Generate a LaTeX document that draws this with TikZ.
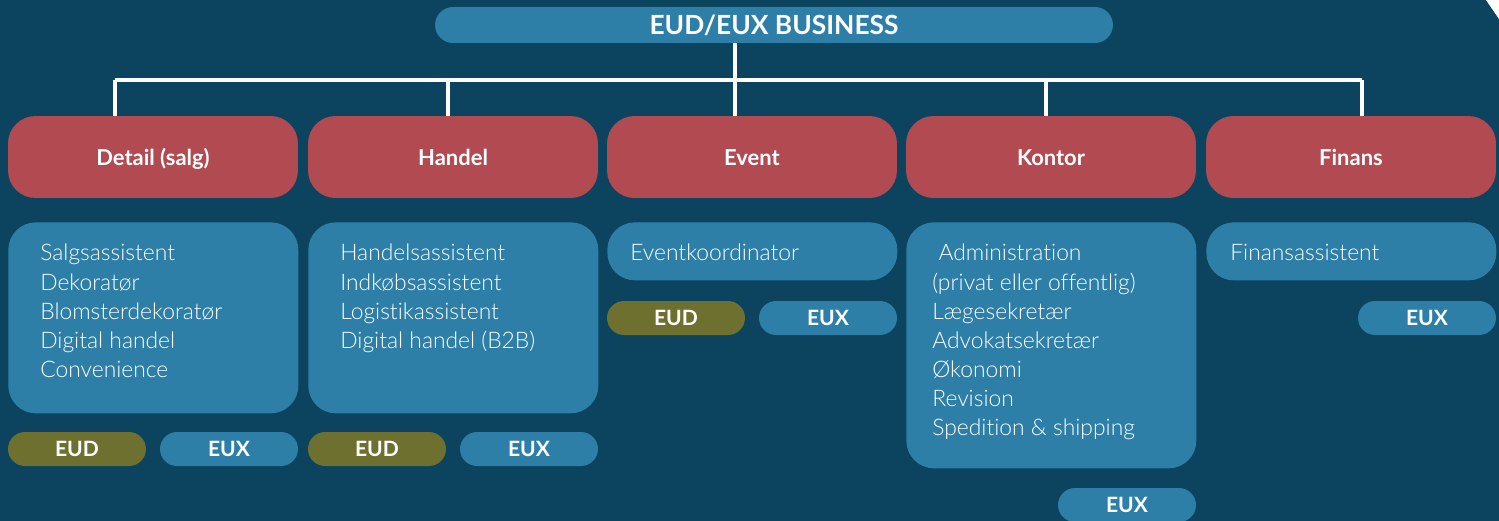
\documentclass[tikz,border=0pt]{standalone}
\usepackage{fontspec}
\setmainfont{Lato}[Ligatures=NoCommon]
\newfontfamily\jobfont{Lato}[UprightFont=* Light, Ligatures=NoCommon]
\definecolor{bgteal}{RGB}{12,68,96}
\definecolor{boxblue}{RGB}{45,127,168}
\definecolor{catred}{RGB}{178,74,82}
\definecolor{olive}{RGB}{110,112,48}

\begin{document}
\begin{tikzpicture}[x=0.02cm, y=-0.02cm,
  link/.style={white, line width=2.3pt},
  header/.style={fill=boxblue, rounded corners=0.36cm, minimum width=13.56cm, minimum height=0.72cm, text=white, font=\bfseries\fontsize{15}{18}\selectfont},
  cat/.style={fill=catred, rounded corners=0.55cm, minimum width=5.8cm, minimum height=1.64cm, text height=2ex, text depth=0.1ex, text=white, font=\bfseries\fontsize{12.5}{15}\selectfont},
  jobbox/.style={fill=boxblue, rounded corners=0.55cm, minimum width=5.8cm, anchor=north west, inner sep=0},
  jobtext/.style={text=white, align=left, inner sep=0, anchor=north west, font=\jobfont\fontsize{13}{16.6}\selectfont},
  pill/.style={rounded corners=0.34cm, minimum width=2.76cm, minimum height=0.68cm, inner sep=0, text=white, font=\bfseries\fontsize{12}{14}\selectfont},
  eud/.style={pill, fill=olive},
  eux/.style={pill, fill=boxblue}]

\useasboundingbox (0,0) rectangle (1499,521);
% background
\fill[bgteal] (0,0) rectangle (1499,521);
% white corner top right
\fill[white] (1486,0) -- (1499,0) -- (1499,19) -- cycle;

% title
\node[header] (business) at (774,25) {EUD/EUX BUSINESS};

% categories
\node[cat] (detail) at (153,157) {Detail (salg)};
\node[cat] (handel) at (453,157) {Handel};
\node[cat] (event)  at (752,157) {Event};
\node[cat] (kontor) at (1051,157) {Kontor};
\node[cat] (finans) at (1351,157) {Finans};

% tree lines
\coordinate (hub) at (735,80);
\coordinate (j1) at (115,80);
\coordinate (j2) at (448,80);
\coordinate (j4) at (1046,80);
\coordinate (j5) at (1362,80);
\draw[link] (hub |- business.south) -- (hub);
\draw[link] (j1) -- (j5);
\draw[link] (j1) -- (j1 |- detail.north);
\draw[link] (j2) -- (j2 |- handel.north);
\draw[link] (hub) -- (hub |- event.north);
\draw[link] (j4) -- (j4 |- kontor.north);
\draw[link] (j5) -- (j5 |- finans.north);

% job boxes
\node[jobbox, minimum height=3.82cm] (detailjobs) at (8,222) {};
\node[jobbox, minimum height=3.82cm] (handeljobs) at (308,222) {};
\node[jobbox, minimum height=1.16cm] (eventjobs) at (607,222) {};
\node[jobbox, minimum height=4.92cm] (kontorjobs) at (906,222) {};
\node[jobbox, minimum height=1.16cm] (finansjobs) at (1206,222) {};

% job texts
\node[jobtext] (detailtext) at (40,244) {Salgsassistent\\Dekoratør\\Blomsterdekoratør\\Digital handel\\Convenience};
\node[jobtext] (handeltext) at (340,244) {Handelsassistent\\Indkøbsassistent\\Logistikassistent\\Digital handel (B2B)};
\node[jobtext] (eventtext) at (630,244) {Eventkoordinator};
\node[jobtext] (kontortext) at (932,244) {\ Administration\\(privat eller offentlig)\\Lægesekretær\\Advokatsekretær\\Økonomi\\Revision\\Spedition \& shipping};
\node[jobtext] (finanstext) at (1230,244) {Finansassistent};

% EUD / EUX pills
\node[eud] (detaileud) at (77,449) {EUD};
\node[eux] (detaileux) at (229,449) {EUX};
\node[eud] (handeleud) at (377,449) {EUD};
\node[eux] (handeleux) at (529,449) {EUX};
\node[eud] (eventeud) at (676,318) {EUD};
\node[eux] (eventeux) at (828,318) {EUX};
\node[eux] (kontoreux) at (1127,505) {EUX};
\node[eux] (finanseux) at (1427,318) {EUX};

\end{tikzpicture}
\end{document}
